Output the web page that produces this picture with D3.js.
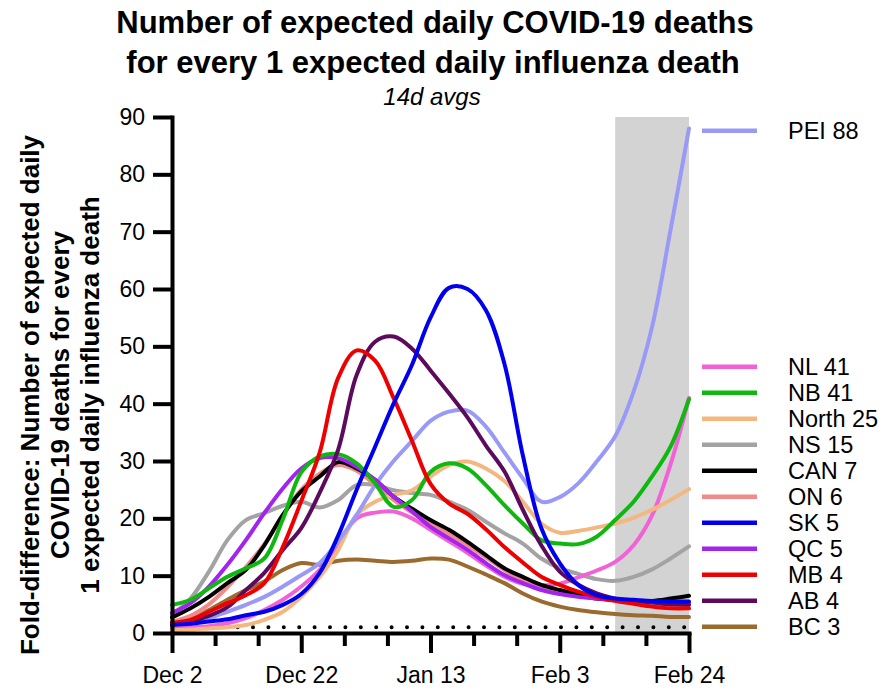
<!DOCTYPE html>
<html><head><meta charset="utf-8">
<script src="https://cdn.jsdelivr.net/npm/d3@7"></script>
<style>body{margin:0;background:#fff} svg{display:block} text{font-family:"Liberation Sans",Arial,sans-serif}</style>
</head><body><svg id="c" width="884" height="688"></svg>
<script>
// day offsets from Dec 2 (every 3 days)
const days = [0,3,6,9,12,15,18,21,24,27,30,33,36,39,42,45,48,51,54,57,60,63,66,69,72,75,78,81,84];
const tickDays = [0,7,14,21,28,35,42,49,56,63,70,77,84];
const tickLabels = {0:"Dec 2",21:"Dec 22",42:"Jan 13",63:"Feb 3",84:"Feb 24"};
const yTicks = [0,10,20,30,40,50,60,70,80,90];
const shadeStart = 72, shadeEnd = 84;
const refLevel = 1;

const PEI   = [1.7,2.0,2.6,3.7,4.9,6.3,8.1,10.1,12.2,16.0,20.6,25.8,30.0,33.5,37.0,38.6,38.8,36.0,31.5,27.0,22.9,23.7,26.1,29.9,34.3,42.1,53.4,70.3,88.0];
const NL    = [0.8,1.0,1.2,1.7,2.6,4.0,5.8,8.1,11.0,15.5,20.0,21.0,21.2,20.0,18.0,16.0,14.0,11.8,9.8,8.6,8.3,8.6,9.7,10.9,12.4,15.3,20.5,29.4,41.0];
const NB    = [4.9,5.8,7.8,9.8,11.3,13.0,19.8,28.0,30.8,31.2,29.6,26.1,22.0,23.2,28.1,29.6,28.7,25.8,22.3,19.1,16.2,15.6,15.5,16.8,19.7,22.9,27.3,32.5,40.8];
const North = [0.5,0.6,0.8,1.0,1.4,2.3,3.7,6.3,9.8,14.5,20.6,22.9,24.1,24.9,27.3,29.3,29.9,28.7,26.5,22.9,19.1,17.5,17.8,18.4,19.1,20.1,21.5,23.2,25.1];
const NS    = [3.1,6.0,10.7,16.2,19.7,20.9,22.2,22.9,21.9,23.2,25.8,25.8,24.9,24.4,24.1,22.9,21.5,19.4,17.4,15.6,13.0,11.3,10.3,9.4,9.1,9.8,11.1,13.0,15.1];
const CAN   = [2.7,4.3,6.3,8.7,11.0,15.3,20.6,24.7,27.3,29.8,28.7,26.7,23.8,21.7,19.7,18.0,15.9,13.6,11.3,9.8,8.4,7.5,6.7,6.0,5.8,5.6,5.6,6.0,6.5];
const ON    = [2.0,3.0,5.0,8.0,11.5,15.5,20.5,25.0,27.8,29.3,28.3,25.8,23.2,21.0,19.0,17.2,15.3,13.2,11.0,9.2,7.8,7.0,6.4,6.0,5.6,5.3,5.1,5.0,5.0];
const SK    = [1.4,1.6,2.0,2.4,3.1,3.7,4.9,6.8,10.5,17.0,25.0,32.5,40.0,46.8,55.0,60.2,60.0,56.3,47.0,31.0,18.3,12.2,8.4,6.6,6.0,5.8,5.6,5.5,5.5];
const QC    = [3.5,5.2,8.1,11.9,16.2,20.9,25.2,28.7,30.5,30.5,29.0,26.7,23.8,21.2,18.5,16.5,14.5,12.2,10.1,8.7,7.5,6.8,6.3,6.0,5.8,5.6,5.5,5.3,5.3];
const MB    = [1.8,2.3,3.7,5.2,6.6,8.7,15.0,23.0,31.5,44.5,49.3,47.5,41.0,33.5,26.0,22.6,20.8,18.1,15.0,12.3,9.8,8.4,7.2,6.3,5.6,5.1,4.6,4.3,4.3];
const AB    = [1.5,2.0,3.0,4.5,7.5,10.5,14.5,18.3,24.5,32.0,45.0,50.8,51.7,49.6,45.8,41.8,37.6,32.7,28.2,21.5,15.3,10.7,8.4,6.9,6.0,5.6,5.3,5.0,4.9];
const BC    = [1.1,2.3,4.0,5.8,7.5,9.0,11.0,12.2,11.9,12.6,12.8,12.6,12.4,12.6,13.0,12.8,11.6,10.2,8.7,6.9,5.5,4.6,4.0,3.6,3.3,3.1,3.0,2.8,2.8];

const series = [
  {name:"PEI 88",   vals:PEI,   color:"#9999f7"},
  {name:"NL 41",    vals:NL,    color:"#f062d6"},
  {name:"NB 41",    vals:NB,    color:"#0fb80f"},
  {name:"North 25", vals:North, color:"#f4b780"},
  {name:"NS 15",    vals:NS,    color:"#a3a3a3"},
  {name:"CAN 7",    vals:CAN,   color:"#000000"},
  {name:"ON 6",     vals:ON,    color:"#f28a8a"},
  {name:"SK 5",     vals:SK,    color:"#0000ee"},
  {name:"QC 5",     vals:QC,    color:"#a224ee"},
  {name:"MB 4",     vals:MB,    color:"#ee0000"},
  {name:"AB 4",     vals:AB,    color:"#5c0a5c"},
  {name:"BC 3",     vals:BC,    color:"#9a6a2e"}
];
const drawOrder = ["BC 3","NS 15","ON 6","NL 41","North 25","PEI 88","CAN 7","QC 5","NB 41","AB 4","MB 4","SK 5"];

const svg = d3.select("#c");
const L = 172, R = 689, T = 117, B = 633;
const x = d3.scaleLinear().domain([0,84]).range([L,R]);
const y = d3.scaleLinear().domain([0,90]).range([B,T]);

// shaded band
svg.append("rect").attr("x",x(shadeStart)).attr("y",y(90)).attr("width",x(shadeEnd)-x(shadeStart)).attr("height",y(0)-y(90)).attr("fill","#d3d3d3");

// dotted reference line
svg.append("line").attr("x1",x(0)).attr("x2",x(84)).attr("y1",y(refLevel)).attr("y2",y(refLevel))
  .attr("stroke","#000").attr("stroke-width",4).attr("stroke-linecap","round")
  .attr("stroke-dasharray","0 15.4").attr("stroke-dashoffset",11.4);

// lines
const line = d3.line().x((d,i)=>x(days[i])).y(d=>y(d)).curve(d3.curveCatmullRom.alpha(0.5));
drawOrder.forEach(n=>{
  const s = series.find(s=>s.name===n);
  svg.append("path").attr("d",line(s.vals)).attr("fill","none").attr("stroke",s.color)
    .attr("stroke-width",4).attr("stroke-linejoin","round").attr("stroke-linecap","round");
});

// axes
const yAxis = svg.append("g").attr("transform",`translate(${L},0)`)
  .call(d3.axisLeft(y).tickValues(yTicks).tickSize(19).tickSizeOuter(0).tickPadding(8));
const xAxis = svg.append("g").attr("transform",`translate(0,${B})`)
  .call(d3.axisBottom(x).tickValues(tickDays).tickSize(13).tickSizeOuter(0)
    .tickFormat(d=>tickLabels[d]||""));
[yAxis,xAxis].forEach(g=>{
  g.select(".domain").attr("stroke-width",4).attr("stroke-linecap","square");
  g.selectAll(".tick line").attr("stroke-width",4);
  g.selectAll("text").attr("font-size",23).attr("font-family","Liberation Sans, Arial, sans-serif").attr("fill","#000");
});
xAxis.selectAll(".tick").filter(d=>tickLabels[d]).select("line").attr("y2",20);
xAxis.selectAll(".tick text").attr("y",34);

// titles
svg.append("text").attr("x",435).attr("y",33).attr("text-anchor","middle").attr("font-size",31).attr("font-weight","bold")
  .text("Number of expected daily COVID-19 deaths");
svg.append("text").attr("x",433).attr("y",73).attr("text-anchor","middle").attr("font-size",31).attr("font-weight","bold")
  .text("for every 1 expected daily influenza death");
svg.append("text").attr("x",432).attr("y",105).attr("text-anchor","middle").attr("font-size",24).attr("font-style","italic")
  .text("14d avgs");

// y label
const ylab = ["Fold-difference: Number of expected daily","COVID-19 deaths for every","1 expected daily influenza death"];
ylab.forEach((t,i)=>{
  svg.append("text").attr("transform",`translate(${30+30*i},395) rotate(-90)`).attr("text-anchor","middle")
    .attr("dy","0.35em").attr("font-size",26).attr("font-weight","bold").text(t);
});

// legend
const legY = n => n==="PEI 88" ? 130.7 : 366.7 + 26*(series.findIndex(s=>s.name===n)-1);
series.forEach(s=>{
  const yy = legY(s.name);
  svg.append("line").attr("x1",702).attr("x2",757).attr("y1",yy).attr("y2",yy).attr("stroke",s.color).attr("stroke-width",4.5);
  svg.append("text").attr("x",788).attr("y",yy).attr("dy","0.36em").attr("font-size",23.5).text(s.name);
});
</script></body></html>
